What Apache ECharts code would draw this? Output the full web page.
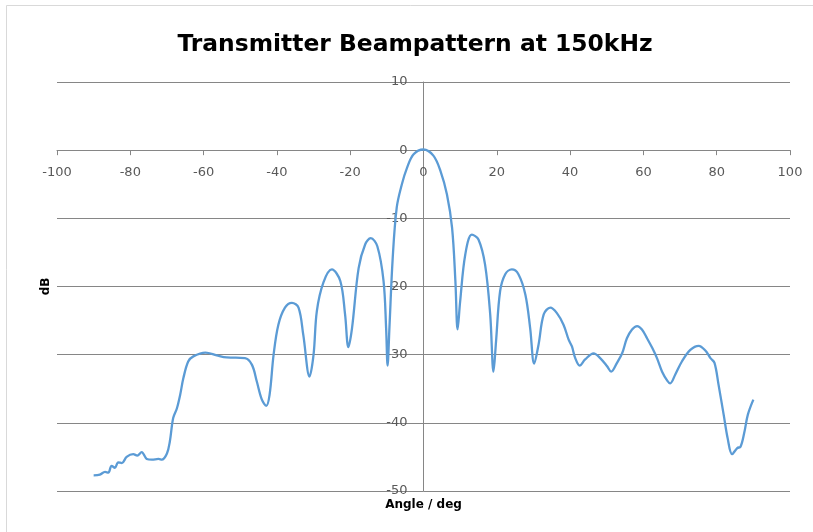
<!DOCTYPE html>
<html>
<head>
<meta charset="utf-8">
<script src="https://cdn.jsdelivr.net/npm/echarts@6/dist/echarts.min.js"></script>
<style>
  html, body { margin: 0; padding: 0; background: #fff; }
  #beamChart { width: 813px; height: 532px; }
</style>
</head>
<body>
<div id="beamChart"></div>
<script>
// angle in degrees
var angles = [
  -90, -88.3, -86.9, -86, -85.1, -84.2, -83.3, -82.3, -81, -79.2,
  -78.1, -76.9, -75.5, -74.1, -72.3, -71.4, -70, -69.2, -68.3, -67.3,
  -66.4, -65.5, -64.2, -62.8, -59.5, -56.4, -53.7, -48.7, -46.8, -45.5,
  -44.1, -42.9, -42, -40.9, -39.6, -37.8, -35.9, -34.1, -32.8, -31.1,
  -30, -29.1, -27.3, -25, -22.7, -21.4, -20.5, -19.5, -17.7, -15.9,
  -14.4, -12.6, -10.9, -10.2, -9.8, -9.3, -8.4, -7.3, -5.9, -4.5,
  -2.7, 0, 2.7, 4.6, 6.4, 7.8, 8.7, 9.3, 10, 11.4,
  13.2, 15, 16.8, 18.2, 19.1, 19.8, 20.9, 22.3, 24.1, 25.9,
  27.8, 29.1, 30.2, 31.4, 32.8, 34.6, 36.4, 38.2, 39.6, 40.5,
  41.4, 42.6, 44.1, 46.4, 48.2, 50.1, 51.2, 52.8, 54.2, 55.5,
  56.9, 58.3, 59.6, 61, 62.4, 63.7, 65.1, 66.5, 67.3, 68.7,
  70.5, 72.8, 75.1, 76.9, 78.3, 79.4, 80.5, 81.9, 83, 84.2,
  85.6, 86.5, 87.5, 88.5, 90
];
// level in dB
var levels = [
  -47.7, -47.6, -47.2, -47.3, -46.3, -46.6, -45.8, -45.9, -45, -44.6,
  -44.8, -44.3, -45.3, -45.4, -45.3, -45.4, -44.5, -42.7, -39.3, -37.9,
  -35.9, -33.4, -31, -30.25, -29.7, -30.1, -30.4, -30.5, -31.5, -33.9,
  -36.6, -37.5, -35.9, -30, -25.6, -23.1, -22.4, -23.1, -27.1, -33.2,
  -30, -23.6, -19.4, -17.5, -19.2, -24.1, -28.9, -26.1, -17.3, -13.8,
  -12.9, -14.1, -19.2, -26.1, -31.6, -26.1, -15.8, -8.4, -5, -2.6,
  -0.6, 0.1, -0.8, -3, -6.5, -11.4, -19.2, -26.3, -22.2, -15.3,
  -12.4, -13.1, -16.8, -24.1, -32.5, -28, -20.7, -18.2, -17.5, -18.2,
  -21.2, -26.1, -31.3, -28.5, -24.1, -23.1, -23.9, -25.6, -27.8, -28.8,
  -30.5, -31.6, -30.7, -29.8, -30.5, -31.7, -32.5, -31.2, -29.8, -27.6,
  -26.3, -25.8, -26.3, -27.6, -29, -30.5, -32.5, -33.8, -34.2, -32.9,
  -31, -29.3, -28.7, -29.4, -30.5, -31.2, -34.4, -38.8, -42.3, -44.6,
  -43.7, -43.5, -41.5, -38.8, -36.6
];

var chart = echarts.init(document.getElementById("beamChart"));

var points = angles.map(function (a, i) { return [a, levels[i]]; });

var font = "DejaVu Sans";
var gridLeft = 57, gridRight = 23, gridTop = 82, gridBottom = 41;
var plotWidth = 813 - gridLeft - gridRight;
var plotHeight = 532 - gridTop - gridBottom;
// axes cross at (0, 0) like the excel original
var yAxisShift = plotWidth * (0 - (-100)) / 200;
var xAxisShift = plotHeight * (0 - (-50)) / 60;

chart.setOption({
  backgroundColor: "#fff",
  animation: false,
  title: {
    text: "Transmitter Beampattern at 150kHz",
    left: 410,
    textAlign: "center",
    top: 28,
    textStyle: { fontFamily: font, fontSize: 23.4, fontWeight: "bold", color: "#000" }
  },
  // chart area frame
  graphic: [{
    type: "rect",
    shape: { x: 6.5, y: 5.5, width: 900, height: 600 },
    style: { fill: "none", stroke: "#d9d9d9", lineWidth: 1 },
    silent: true,
    z: -1
  }],
  grid: {
    left: gridLeft,
    right: gridRight,
    top: gridTop,
    bottom: gridBottom,
    outerBoundsMode: "none"
  },
  xAxis: {
    type: "value",
    min: -100,
    max: 100,
    interval: 20,
    offset: -xAxisShift,
    name: "Angle / deg",
    nameLocation: "middle",
    nameGap: 349,
    nameTextStyle: { fontFamily: font, fontSize: 12, fontWeight: "bold", color: "#000" },
    axisLine: { onZero: false, lineStyle: { color: "#868686", width: 1 } },
    axisTick: { show: true, length: 5, lineStyle: { color: "#868686" } },
    axisLabel: { fontFamily: font, fontSize: 13, color: "#595959", margin: 16 },
    splitLine: { show: false }
  },
  yAxis: {
    type: "value",
    min: -50,
    max: 10,
    interval: 10,
    offset: -yAxisShift,
    name: "dB",
    nameLocation: "middle",
    nameRotate: 90,
    nameGap: 372,
    nameTextStyle: { fontFamily: font, fontSize: 12, fontWeight: "bold", color: "#000" },
    axisLine: { show: true, onZero: false, lineStyle: { color: "#868686", width: 1 } },
    axisTick: { show: false },
    axisLabel: { fontFamily: font, fontSize: 13, color: "#595959", margin: 16 },
    splitLine: { show: true, lineStyle: { color: "#868686", width: 1 } }
  },
  series: [{
    type: "line",
    data: points,
    symbol: "none",
    smooth: 0.35,
    lineStyle: { color: "#5B9BD5", width: 2.3 }
  }]
});
</script>
</body>
</html>
